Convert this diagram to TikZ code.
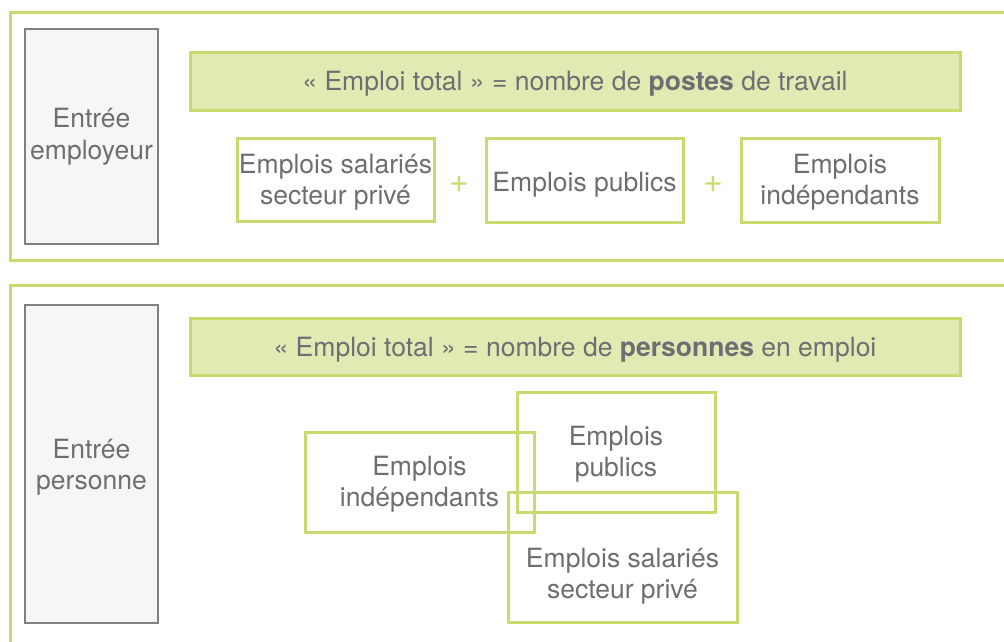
\documentclass[tikz,border=0pt]{standalone}
\usepackage{fontspec}
\setmainfont{TeX Gyre Heros}
\definecolor{grn}{HTML}{C8DB6E}
\definecolor{grnfill}{HTML}{E2EAB4}
\definecolor{txt}{HTML}{6D6E71}
\definecolor{gbox}{HTML}{F6F6F6}
\definecolor{gline}{HTML}{808080}
\begin{document}
\begin{tikzpicture}[x=1pt,y=-1pt,
  every node/.style={font=\fontsize{26.5}{31.5}\selectfont, text=txt, align=center, inner sep=0pt},
  frame/.style={draw=grn, line width=3pt},
  entry/.style={draw=gline, fill=gbox, line width=1.3pt},
  header/.style={draw=grn, fill=grnfill, line width=3pt},
  jobbox/.style={draw=grn, line width=3pt},
  plus/.style={text=grn, font=\fontsize{34}{34}\selectfont}]
\clip (0,0) rectangle (1004,641);
\fill[white] (0,0) rectangle (1004,641);
% outer frames
\draw[frame] (10,12) rectangle (1020,260);
\draw[frame] (10,285) rectangle (1020,660);
% entry boxes
\node[entry, minimum width=133pt, minimum height=215pt] (e1) at (91.5,136.5) {Entrée\\employeur};
\node[entry, minimum width=133pt, minimum height=318pt,
  label={[yshift=-3pt]center:{Entrée\\personne}}] (e2) at (91.5,464) {};
% headers
\node[header, minimum width=770pt, minimum height=58pt,
  label={[yshift=-3pt]center:{« Emploi total » = nombre de \textbf{postes} de travail}}] (h1) at (575,81) {};
\node[header, minimum width=770pt, minimum height=57pt,
  label={[yshift=-3pt]center:{« Emploi total » = nombre de \textbf{personnes} en emploi}}] (h2) at (575,346.5) {};
% top boxes
\node[jobbox, minimum width=197pt, minimum height=83pt,
  label={[yshift=-2.5pt]center:{Emplois salariés\\secteur privé}}] (b1) at (335.5,179.5) {};
\node[jobbox, minimum width=197pt, minimum height=84pt,
  label={[yshift=-5pt]center:{Emplois publics}}] (b2) at (584.5,180) {};
\node[jobbox, minimum width=198pt, minimum height=84pt,
  label={[yshift=-2pt]center:{Emplois\\indépendants}}] (b3) at (840,180) {};
\node[plus] (p1) at (459,184) {+};
\node[plus] (p2) at (713,184) {+};
% bottom boxes
\node[jobbox, minimum width=229pt, minimum height=100pt,
  label={[yshift=-2pt]center:{Emplois\\indépendants}}] (c1) at (419.5,482) {};
\node[jobbox, minimum width=198pt, minimum height=120pt,
  label={[yshift=-2pt]center:{Emplois\\publics}}] (c2) at (616,452) {};
\node[jobbox, minimum width=229pt, minimum height=130pt,
  label={[yshift=-19pt]center:{Emplois salariés\\secteur privé}}] (c3) at (622.5,557) {};
\end{tikzpicture}
\end{document}
